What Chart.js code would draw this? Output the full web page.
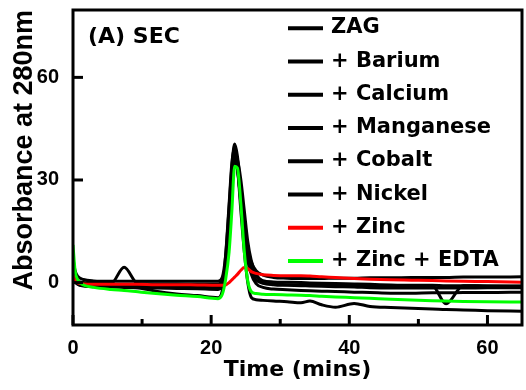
<!DOCTYPE html>
<html><head><meta charset="utf-8">
<script src="https://cdn.jsdelivr.net/npm/chart.js@4.4.1/dist/chart.umd.min.js"></script>
<style>html,body{margin:0;padding:0;background:#fff;overflow:hidden}canvas{display:block}</style>
</head><body>
<canvas id="c" width="526" height="390"></canvas>
<script>
// Time grid (mins)
const time = [0, 0.3, 0.7, 1.5, 3, 5.5, 7.4, 9.4, 12, 15, 18, 21, 21.6, 22.1, 22.6, 23, 23.4, 23.8, 24.3, 24.8, 25.3, 25.8, 26.5, 27.5, 29, 31, 33, 34.3, 36, 38, 40.7, 43, 46, 49, 52, 54, 56.5, 60, 65];

const zag       = [7, 3.5, 1.8, 0.9, 0.5, 0.4, 0.4, 0.4, 0.4, 0.4, 0.4, 0.4, 1.5, 8, 22, 34, 40.5, 37, 27, 17, 10, 6, 3.5, 2.2, 1.5, 1.3, 1.2, 1.2, 1.2, 1.3, 1.3, 1.4, 1.4, 1.5, 1.5, 1.5, 1.6, 1.6, 1.7];
const barium    = [4, 1.8, 0.6, 0, -0.2, -0.3, 4.5, -0.3, -0.4, -0.4, -0.5, -0.5, 0.5, 6, 19, 32, 39, 35, 25, 15, 8, 4.2, 1.8, 0.6, 0.2, 0.1, 0, -0.1, -0.2, -0.3, -0.4, -0.5, -0.7, -0.8, -0.8, -0.9, -0.9, -1.0, -1.0];
const calcium   = [3, 1.2, 0.2, -0.3, -0.5, -0.6, -0.6, -0.7, -0.8, -0.9, -1.0, -1.0, 0, 5, 17, 30, 37.5, 34, 23, 13, 6.5, 3, 0.8, -0.2, -0.5, -0.6, -0.7, -0.7, -0.8, -0.8, -0.8, -0.9, -0.9, -0.9, -0.9, -6.2, -0.9, -1.0, -1.1];
const manganese = [2.5, 1, 0, -0.6, -0.8, -0.9, -1.0, -1.1, -1.2, -1.3, -1.4, -1.5, -0.5, 4, 16, 29, 37, 36, 30, 21, 12, 6.5, 2.5, 0.2, -0.6, -0.8, -0.9, -1.0, -1.1, -1.2, -1.3, -1.5, -1.6, -1.6, -1.6, -1.6, -1.6, -1.5, -1.5];
const cobalt    = [2, 0.5, -0.5, -1, -1.2, -1.3, -1.4, -1.5, -1.6, -1.7, -1.8, -2.0, -1.0, 4, 17, 30, 36, 33, 24, 14, 7, 2.5, -0.3, -1.4, -1.9, -2.1, -2.3, -2.4, -2.5, -2.6, -2.8, -2.9, -3.1, -3.1, -3.0, -3.0, -2.9, -2.9, -2.8];
const nickel    = [1.5, 0.3, -0.5, -0.8, -0.9, -1.0, -1.2, -1.5, -2.5, -3.3, -3.8, -4.4, -2.5, 8, 23, 35, 39.5, 34, 21, 9, 0, -4.3, -5.0, -5.2, -5.4, -5.6, -5.9, -5.4, -6.5, -7.2, -6.1, -7.0, -7.3, -7.5, -7.7, -7.9, -8.0, -8.2, -8.4];
const zinc      = [2.2, 0.6, -0.1, -0.4, -0.5, -0.5, -0.5, -0.5, -0.6, -0.6, -0.7, -0.8, -0.8, -0.7, 0, 0.8, 1.6, 2.4, 3.6, 4.4, 4.1, 3.2, 2.7, 2.3, 2.1, 2.0, 2.0, 1.9, 1.7, 1.5, 1.2, 1.0, 0.8, 0.7, 0.6, 0.5, 0.4, 0.3, 0.1];
const zincEdta  = [11, 3.5, 0.8, -0.7, -1.4, -2.0, -2.3, -2.7, -3.2, -3.7, -4.1, -4.7, -3.5, 1, 9, 21, 34, 33.5, 23, 9, 0.5, -2.6, -3.2, -3.4, -3.5, -3.6, -3.7, -3.8, -4.0, -4.2, -4.4, -4.6, -4.9, -5.1, -5.3, -5.4, -5.5, -5.6, -5.7];

const seriesLabels = ['ZAG', '+ Barium', '+ Calcium', '+ Manganese', '+ Cobalt', '+ Nickel', '+ Zinc', '+ Zinc + EDTA'];
const seriesValues = [zag, barium, calcium, manganese, cobalt, nickel, zinc, zincEdta];
const seriesColors = ['#000000', '#000000', '#000000', '#000000', '#000000', '#000000', '#ff0000', '#00ff00'];

const xTickValues = [0, 10, 20, 30, 40, 50, 60];
const xTickLabels = [0, 20, 40, 60];
const yTickValues = [0, 30, 60];
const panelLabel = '(A) SEC';
const xTitle = 'Time (mins)';
const yTitle = 'Absorbance at 280nm';

const datasets = seriesValues.map((vals, i) => ({
  label: seriesLabels[i],
  data: time.map((t, k) => ({ x: t, y: vals[k] })),
  borderColor: seriesColors[i],
  backgroundColor: seriesColors[i],
  borderWidth: 3,
  pointRadius: 0,
  fill: false,
  cubicInterpolationMode: 'monotone',
  order: seriesValues.length - i
}));

const decor = {
  id: 'decor',
  afterDraw(chart) {
    const { ctx, chartArea: a, scales: { x, y } } = chart;
    ctx.save();
    ctx.strokeStyle = '#000';
    ctx.lineWidth = 3;
    ctx.lineCap = 'butt';
    ctx.strokeRect(a.left, a.top, a.right - a.left, a.bottom - a.top);
    xTickValues.forEach(v => {
      const px = x.getPixelForValue(v);
      const len = xTickLabels.includes(v) ? 10 : 6;
      ctx.beginPath(); ctx.moveTo(px, a.bottom); ctx.lineTo(px, a.bottom - len); ctx.stroke();
    });
    yTickValues.forEach(v => {
      const py = y.getPixelForValue(v);
      ctx.beginPath(); ctx.moveTo(a.left, py); ctx.lineTo(a.left + 10, py); ctx.stroke();
    });
    // panel label
    ctx.fillStyle = '#000';
    ctx.font = 'bold 22px "DejaVu Sans"';
    ctx.textAlign = 'left';
    ctx.textBaseline = 'alphabetic';
    ctx.fillText(panelLabel, a.left + 15, a.top + 33);
    // legend
    ctx.font = 'bold 21px "DejaVu Sans"';
    chart.data.datasets.forEach((ds, i) => {
      const ly = a.top + 18.3 + i * 33.25;
      ctx.strokeStyle = ds.borderColor;
      ctx.lineWidth = 4;
      ctx.beginPath(); ctx.moveTo(a.left + 215, ly); ctx.lineTo(a.left + 250, ly); ctx.stroke();
      ctx.fillStyle = '#000';
      ctx.fillText(ds.label, a.left + 258, ly + 5);
    });
    ctx.restore();
  }
};

const noPad = s => { s.paddingTop = 0; s.paddingBottom = 0; s.paddingLeft = 0; s.paddingRight = 0; };

new Chart(document.getElementById('c'), {
  type: 'line',
  data: { datasets },
  options: {
    responsive: false,
    animation: false,
    devicePixelRatio: 1,
    layout: { padding: { top: 10, right: 4, left: 0, bottom: 0 } },
    plugins: { legend: { display: false }, tooltip: { enabled: false } },
    scales: {
      x: {
        type: 'linear', min: 0, max: 65,
        afterBuildTicks: s => { s.ticks = xTickValues.map(v => ({ value: v })); },
        afterFit: s => { s.height = 65; noPad(s); },
        grid: { display: false, drawTicks: false },
        border: { display: false },
        ticks: {
          autoSkip: false, maxRotation: 0, minRotation: 0, padding: 11, color: '#000',
          font: { family: 'Liberation Sans', size: 20, weight: 'bold' },
          callback: v => xTickLabels.includes(v) ? String(v) : ''
        },
        title: { display: true, text: xTitle, color: '#000', font: { family: 'DejaVu Sans', size: 22, weight: 'bold' }, padding: { top: 0, bottom: 7 } }
      },
      y: {
        type: 'linear', min: -12.4, max: 79.7,
        afterBuildTicks: s => { s.ticks = yTickValues.map(v => ({ value: v })); },
        afterFit: s => { s.width = 73; noPad(s); },
        grid: { display: false, drawTicks: false },
        border: { display: false },
        ticks: {
          padding: 14, color: '#000',
          font: { family: 'Liberation Sans', size: 20, weight: 'bold' },
          callback: v => String(v)
        },
        title: { display: true, text: yTitle, align: 'end', color: '#000', font: { family: 'Liberation Sans', size: 27, weight: 'bold' }, padding: { top: 8, bottom: 0 } }
      }
    }
  },
  plugins: [decor]
});
</script>
</body></html>
